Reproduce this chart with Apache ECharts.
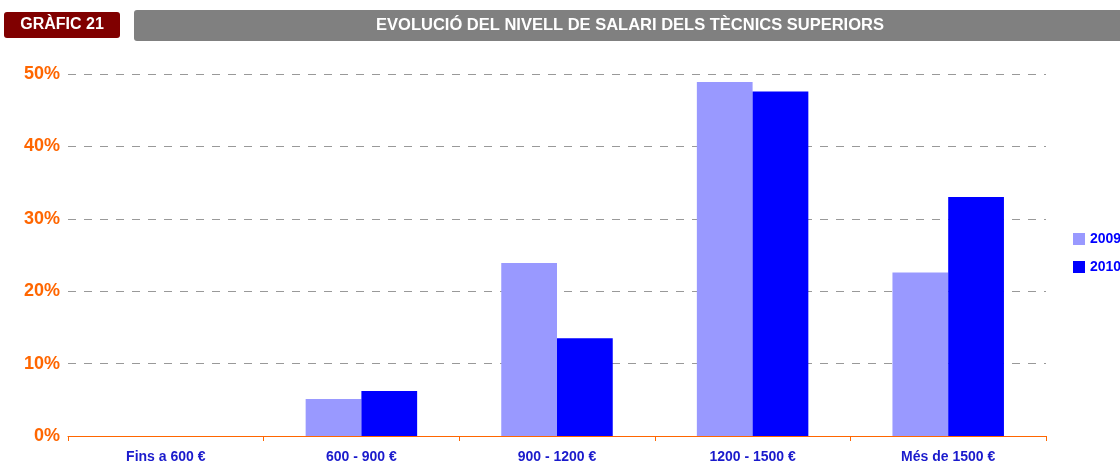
<!DOCTYPE html>
<html>
<head>
<meta charset="utf-8">
<script src="https://cdn.jsdelivr.net/npm/echarts@6/dist/echarts.min.js"></script>
<style>
	html,body{margin:0;padding:0;background:#fff;}
	#chart{width:1120px;height:464px;}
</style>
</head>
<body>
<div id="chart"></div>
<script>
var categories = ['Fins a 600 €', '600 - 900 €', '900 - 1200 €', '1200 - 1500 €', 'Més de 1500 €'];
var values2009 = [0, 5.1, 23.9, 48.9, 22.6];
var values2010 = [0, 6.2, 13.5, 47.6, 33.0];
var yTicks = [0, 10, 20, 30, 40, 50];

var font = 'Liberation Sans, Arial, sans-serif';
var myChart = echarts.init(document.getElementById('chart'));

var option = {
	animation: false,
	textStyle: { fontFamily: font },
	graphic: [
		{ type: 'rect', shape: { x: 4, y: 12, width: 116, height: 26, r: 3 }, style: { fill: '#800000' } },
		{ type: 'text', x: 62, y: 25, style: { text: 'GRÀFIC 21', fill: '#fff', font: 'bold 16px ' + font, align: 'center', verticalAlign: 'middle' } },
		{ type: 'rect', shape: { x: 134, y: 10, width: 1000, height: 31, r: 3 }, style: { fill: '#808080' } },
		{ type: 'text', x: 630, y: 25, style: { text: 'EVOLUCIÓ DEL NIVELL DE SALARI DELS TÈCNICS SUPERIORS', fill: '#fff', font: 'bold 16.5px ' + font, align: 'center', verticalAlign: 'middle' } }
	],
	legend: {
		orient: 'vertical',
		left: 1073,
		top: 232,
		padding: 0,
		itemWidth: 12,
		itemHeight: 12,
		itemGap: 14,
		icon: 'rect',
		textStyle: { color: '#0000ff', fontWeight: 'bold', fontSize: 14, fontFamily: font },
		data: ['2009', '2010']
	},
	grid: { left: 68, right: 74, top: 74, bottom: 28 },
	xAxis: {
		type: 'category',
		data: categories,
		axisLine: { lineStyle: { color: '#ff6600', width: 1 } },
		axisTick: { show: true, length: 5, lineStyle: { color: '#ff6600' } },
		axisLabel: { color: '#1a1acc', fontWeight: 'bold', fontSize: 14, margin: 14, fontFamily: font }
	},
	yAxis: {
		type: 'value',
		min: yTicks[0],
		max: yTicks[yTicks.length - 1],
		interval: 10,
		axisLine: { show: false },
		axisTick: { show: false },
		axisLabel: { color: '#ff6600', fontWeight: 'bold', fontSize: 18, margin: 8, formatter: '{value}%', fontFamily: font },
		splitLine: { lineStyle: { color: '#999', type: [8, 8], width: 1 } }
	},
	series: [
		{ name: '2009', type: 'bar', data: values2009, barGap: 0, barCategoryGap: '43%', itemStyle: { color: '#9999ff' } },
		{ name: '2010', type: 'bar', data: values2010, itemStyle: { color: '#0000ff' } }
	]
};

myChart.setOption(option);
</script>
</body>
</html>
